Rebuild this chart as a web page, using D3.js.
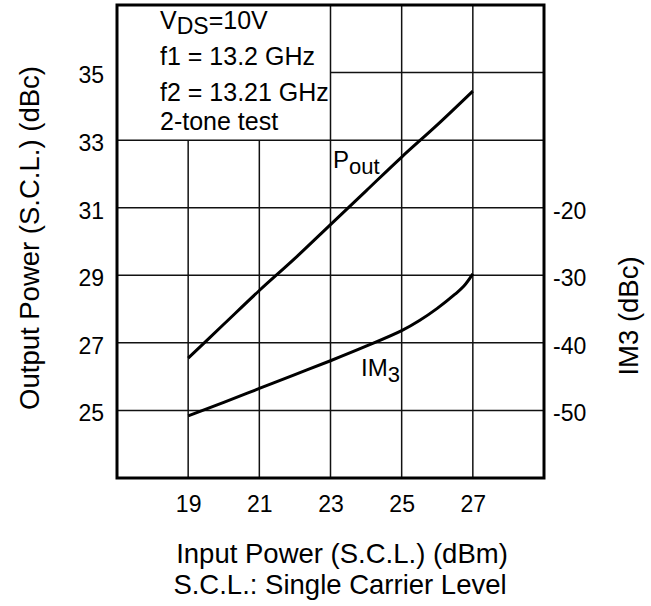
<!DOCTYPE html>
<html><head><meta charset="utf-8">
<script src="https://cdn.jsdelivr.net/npm/d3@7/dist/d3.min.js"></script>
<style>
body{margin:0;background:#fff;}
text{font-family:"Liberation Sans",Arial,Helvetica,sans-serif;fill:#000;}
</style></head>
<body>
<svg id="c" width="651" height="606"></svg>
<script>
const inputPower = [19, 20, 21, 22, 23, 24, 25, 26, 27];
const poutValues = [26.55, 27.55, 28.55, 29.5, 30.5, 31.5, 32.5, 33.45, 34.45];
const im3Input = [19, 20, 21, 22, 23, 24, 25, 25.5, 26, 26.5, 26.75, 27];
const im3Values = [-50.8, -48.8, -46.75, -44.7, -42.65, -40.5, -38.2, -36.7, -34.9, -32.8, -31.6, -29.8];
const xTicks = [19, 21, 23, 25, 27];
const yTicks = [25, 27, 29, 31, 33, 35];
const y2Ticks = [-50, -40, -30, -20];
const legendLines = ["f1 = 13.2 GHz", "f2 = 13.21 GHz", "2-tone test"];

const svg = d3.select("#c");
const x = d3.scaleLinear([17, 29], [117, 544]);
const y = d3.scaleLinear([23, 37], [478, 5]);
const y2 = d3.scaleLinear([-60, 10], [478, 5]);

const g = svg.append("g");
const vgrid = [
  {v:19, y0:23, y1:33},{v:21, y0:23, y1:33},
  {v:23, y0:23, y1:37},{v:25, y0:23, y1:37},{v:27, y0:23, y1:37}
];
g.selectAll(".vg").data(vgrid).join("line")
  .attr("x1", d=>x(d.v)).attr("x2", d=>x(d.v))
  .attr("y1", d=>y(d.y0)).attr("y2", d=>y(d.y1))
  .attr("stroke","#111").attr("stroke-width",1.5);
const hgrid = [
  {v:25,x0:17,x1:29},{v:27,x0:17,x1:29},{v:29,x0:17,x1:29},
  {v:31,x0:17,x1:29},{v:33,x0:17,x1:29},{v:35,x0:23,x1:29}
];
g.selectAll(".hg").data(hgrid).join("line")
  .attr("x1", d=>x(d.x0)).attr("x2", d=>x(d.x1))
  .attr("y1", d=>y(d.v)).attr("y2", d=>y(d.v))
  .attr("stroke","#111").attr("stroke-width",1.5);

g.append("rect").attr("x", x(17)).attr("y", y(37))
  .attr("width", x(29)-x(17)).attr("height", y(23)-y(37))
  .attr("fill","none").attr("stroke","#000").attr("stroke-width",3);

const line = d3.line().curve(d3.curveCatmullRom.alpha(0.5));
g.append("path")
  .attr("d", line(inputPower.map((v,i)=>[x(v), y(poutValues[i])])))
  .attr("fill","none").attr("stroke","#000").attr("stroke-width",3);
g.append("path")
  .attr("d", line(im3Input.map((v,i)=>[x(v), y2(im3Values[i])])))
  .attr("fill","none").attr("stroke","#000").attr("stroke-width",3);

const fs = 23;
const ax = svg.append("g").attr("transform",`translate(0,${y(23)})`)
  .call(d3.axisBottom(x).tickValues(xTicks).tickSize(0).tickPadding(18).tickFormat(d3.format("d")));
const ay = svg.append("g").attr("transform",`translate(${x(17)},0)`)
  .call(d3.axisLeft(y).tickValues(yTicks).tickSize(0).tickPadding(13).tickFormat(d3.format("d")));
const ay2 = svg.append("g").attr("transform",`translate(${x(29)},0)`)
  .call(d3.axisRight(y2).tickValues(y2Ticks).tickSize(0).tickPadding(9).tickFormat(d=>String(d)));
[ax, ay, ay2].forEach(a=>{
  a.select(".domain").remove();
  a.selectAll("text").attr("font-size", fs).attr("font-family",'"Liberation Sans",Arial,sans-serif').attr("fill","#000");
});
ay.selectAll("text").attr("dy","0.45em");
ay2.selectAll("text").attr("dy","0.45em");

const lg = svg.append("g").attr("font-size", 25);
const t0 = lg.append("text").attr("x",160).attr("y",29);
t0.append("tspan").text("V");
t0.append("tspan").attr("font-size",23).attr("dy",5).text("DS");
t0.append("tspan").attr("dy",-5).text("=10V");
lg.selectAll(".ll").data(legendLines).join("text")
  .attr("x",160).attr("y",(d,i)=>[65,101,130][i]).text(d=>d);

const pl = svg.append("text").attr("x",333).attr("y",168).attr("font-size",24);
pl.append("tspan").text("P");
pl.append("tspan").attr("font-size",22).attr("dy",6).text("out");
const il = svg.append("text").attr("x",361).attr("y",376).attr("font-size",24);
il.append("tspan").text("IM");
il.append("tspan").attr("font-size",22).attr("dy",6).text("3");

svg.append("text").attr("x",342).attr("y",563).attr("text-anchor","middle").attr("font-size",27.5)
  .text("Input Power (S.C.L.) (dBm)");
svg.append("text").attr("x",340).attr("y",594).attr("text-anchor","middle").attr("font-size",27.5)
  .text("S.C.L.: Single Carrier Level");
svg.append("text").attr("transform","translate(39,238) rotate(-90)").attr("text-anchor","middle").attr("font-size",27.5)
  .text("Output Power (S.C.L.) (dBc)");
svg.append("text").attr("transform","translate(638,316) rotate(-90)").attr("text-anchor","middle").attr("font-size",27.5)
  .text("IM3 (dBc)");
</script>
</body></html>
